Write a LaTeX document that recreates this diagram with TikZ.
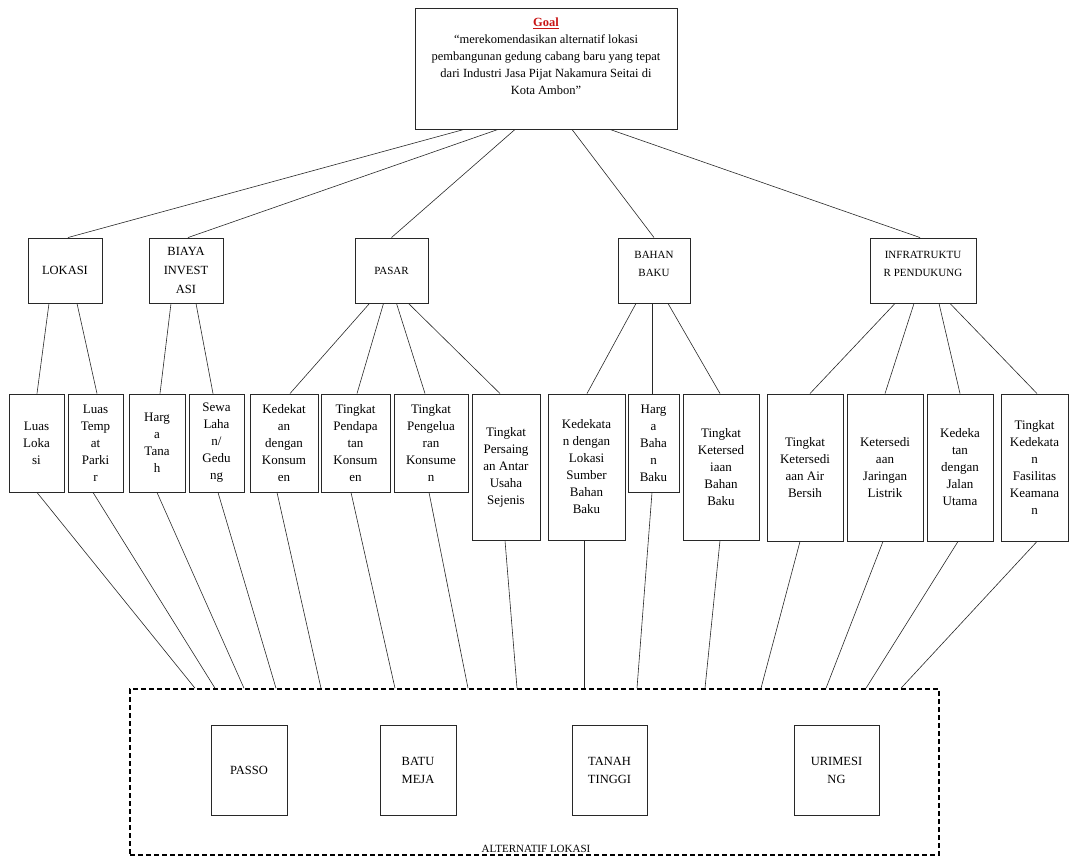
\documentclass[tikz,border=0pt]{standalone}
\usepackage{fontspec}
\setmainfont{Liberation Serif}
\usetikzlibrary{positioning}
\definecolor{goalred}{RGB}{200,20,20}
\definecolor{linegray}{RGB}{40,40,40}
\tikzset{
  box/.style={draw=linegray,line width=0.9pt,rectangle,align=center,inner sep=1pt},
  critbox/.style={box,minimum width=#1,minimum height=65pt,font=\fontsize{11}{18}\selectfont},
  subbox/.style 2 args={box,minimum width=#1,minimum height=#2,font=\fontsize{13}{17}\selectfont},
  altbox/.style={box,minimum width=#1,minimum height=90pt,font=\fontsize{12.5}{18}\selectfont},
  link/.style={draw=linegray,line width=0.6pt}
}
\begin{document}
\begin{tikzpicture}[x=1pt,y=-1pt]
\useasboundingbox (0,0) rectangle (1070,858);
    \node[box,minimum width=262pt,minimum height=121pt,font=\fontsize{12.5}{17}\selectfont] (goal) at (546,68.5)
      {\textcolor{goalred}{\textbf{\underline{Goal}}}\\``merekomendasikan alternatif lokasi\\pembangunan gedung cabang baru yang tepat\\dari Industri Jasa Pijat Nakamura Seitai di\\Kota Ambon''\\[2pt]\strut};
    \node[critbox=74pt,font=\fontsize{12.5}{19}\selectfont] (lokasi) at (65,270.5) {LOKASI};
    \node[critbox=74pt,font=\fontsize{12.5}{19}\selectfont] (biaya) at (186,270.5) {BIAYA\\INVEST\\ASI};
    \node[critbox=73pt] (pasar) at (391.5,270.5) {PASAR};
    \node[critbox=72pt] (bahan) at (654,270.5) {BAHAN\\BAKU\\[-4pt]\mbox{}};
    \node[critbox=106pt] (infra) at (923,270.5) {INFRATRUKTU\\R PENDUKUNG\\[-4pt]\mbox{}};
    \node[subbox={55pt}{98pt}] (luaslokasi) at (36.5,443) {Luas\\Loka\\si};
    \node[subbox={55pt}{98pt}] (parkir) at (95.5,443) {Luas\\Temp\\at\\Parki\\r};
    \node[subbox={56pt}{98pt}] (hargatanah) at (157,443) {Harg\\a\\Tana\\h};
    \node[subbox={55pt}{98pt}] (sewa) at (216.5,443) {Sewa\\Laha\\n/\\Gedu\\ng};
    \node[subbox={68pt}{98pt}] (dekatkonsumen) at (284,443) {Kedekat\\an\\dengan\\Konsum\\en};
    \node[subbox={69pt}{98pt}] (pendapatan) at (355.5,443) {Tingkat\\Pendapa\\tan\\Konsum\\en};
    \node[subbox={74pt}{98pt}] (pengeluaran) at (431,443) {Tingkat\\Pengelua\\ran\\Konsume\\n};
    \node[subbox={68pt}{146pt}] (persaingan) at (506,467) {Tingkat\\Persaing\\an Antar\\Usaha\\Sejenis};
    \node[subbox={77pt}{146pt}] (dekatsumber) at (586.5,467) {Kedekata\\n dengan\\Lokasi\\Sumber\\Bahan\\Baku};
    \node[subbox={51pt}{98pt}] (hargabahan) at (653.5,443) {Harg\\a\\Baha\\n\\Baku};
    \node[subbox={76pt}{146pt}] (sediabahan) at (721,467) {Tingkat\\Ketersed\\iaan\\Bahan\\Baku};
    \node[subbox={76pt}{147pt}] (airbersih) at (805,467.5) {Tingkat\\Ketersedi\\aan Air\\Bersih};
    \node[subbox={76pt}{147pt}] (listrik) at (885,467.5) {Ketersedi\\aan\\Jaringan\\Listrik};
    \node[subbox={66pt}{147pt}] (jalan) at (960,467.5) {Kedeka\\tan\\dengan\\Jalan\\Utama};
    \node[subbox={67pt}{147pt}] (keamanan) at (1034.5,467.5) {Tingkat\\Kedekata\\n\\Fasilitas\\Keamana\\n};
    \node[draw=black,line width=1.6pt,dash pattern=on 5pt off 3pt,minimum width=809pt,minimum height=166pt,inner sep=0pt] (alt) at (534.5,772) {};
    \node[altbox=76pt] (passo) at (249,770) {PASSO};
    \node[altbox=76pt] (batumeja) at (418,770) {BATU\\MEJA};
    \node[altbox=75pt] (tanahtinggi) at (609.5,770) {TANAH\\TINGGI};
    \node[altbox=85pt] (urimesing) at (836.5,770) {URIMESI\\NG};
    \node[font=\fontsize{11}{12}\selectfont,anchor=south,inner sep=1pt] (altlabel) at (536,854) {ALTERNATIF LOKASI};
    \draw[link] ([xshift=-82pt]goal.south) -- ([xshift=3pt]lokasi.north);
    \draw[link] ([xshift=-48pt]goal.south) -- ([xshift=2pt]biaya.north);
    \draw[link] ([xshift=-31pt]goal.south) -- (pasar.north);
    \draw[link] ([xshift=26pt]goal.south) -- (bahan.north);
    \draw[link] ([xshift=64pt]goal.south) -- ([xshift=-3pt]infra.north);
    \draw[link] ([xshift=-16pt]lokasi.south) -- ([xshift=0.5pt]luaslokasi.north);
    \draw[link] ([xshift=12pt]lokasi.south) -- ([xshift=1.5pt]parkir.north);
    \draw[link] ([xshift=-15pt]biaya.south) -- ([xshift=3pt]hargatanah.north);
    \draw[link] ([xshift=10pt]biaya.south) -- ([xshift=-3.5pt]sewa.north);
    \draw[link] ([xshift=-22pt]pasar.south) -- ([xshift=6pt]dekatkonsumen.north);
    \draw[link] ([xshift=-8pt]pasar.south) -- ([xshift=1.5pt]pendapatan.north);
    \draw[link] ([xshift=5pt]pasar.south) -- ([xshift=-6pt]pengeluaran.north);
    \draw[link] ([xshift=17pt]pasar.south) -- ([xshift=-6pt]persaingan.north);
    \draw[link] ([xshift=-18pt]bahan.south) -- ([xshift=0.5pt]dekatsumber.north);
    \draw[link] ([xshift=-2pt]bahan.south) -- ([xshift=-1.5pt]hargabahan.north);
    \draw[link] ([xshift=14pt]bahan.south) -- ([xshift=-1pt]sediabahan.north);
    \draw[link] ([xshift=-28pt]infra.south) -- ([xshift=5pt]airbersih.north);
    \draw[link] ([xshift=-9pt]infra.south) -- (listrik.north);
    \draw[link] ([xshift=16pt]infra.south) -- (jalan.north);
    \draw[link] ([xshift=27pt]infra.south) -- ([xshift=2.5pt]keamanan.north);
    \draw[link] ([xshift=0.5pt]luaslokasi.south) -- ([xshift=-339.5pt]alt.north);
    \draw[link] ([xshift=-2.5pt]parkir.south) -- ([xshift=-319.5pt]alt.north);
    \draw[link] (hargatanah.south) -- ([xshift=-290.5pt]alt.north);
    \draw[link] ([xshift=1.5pt]sewa.south) -- ([xshift=-258.5pt]alt.north);
    \draw[link] ([xshift=-7pt]dekatkonsumen.south) -- ([xshift=-213.5pt]alt.north);
    \draw[link] ([xshift=-4.5pt]pendapatan.south) -- ([xshift=-139.5pt]alt.north);
    \draw[link] ([xshift=-2pt]pengeluaran.south) -- ([xshift=-66.5pt]alt.north);
    \draw[link] ([xshift=-1pt]persaingan.south) -- ([xshift=-17.5pt]alt.north);
    \draw[link] ([xshift=-2.5pt]dekatsumber.south) -- ([xshift=49.5pt]alt.north);
    \draw[link] ([xshift=-1.5pt]hargabahan.south) -- ([xshift=102.5pt]alt.north);
    \draw[link] ([xshift=-1pt]sediabahan.south) -- ([xshift=170.5pt]alt.north);
    \draw[link] ([xshift=-5pt]airbersih.south) -- ([xshift=226.5pt]alt.north);
    \draw[link] ([xshift=-2pt]listrik.south) -- ([xshift=291.5pt]alt.north);
    \draw[link] ([xshift=-2pt]jalan.south) -- ([xshift=331.5pt]alt.north);
    \draw[link] ([xshift=2.5pt]keamanan.south) -- ([xshift=366.5pt]alt.north);
\end{tikzpicture}
\end{document}
